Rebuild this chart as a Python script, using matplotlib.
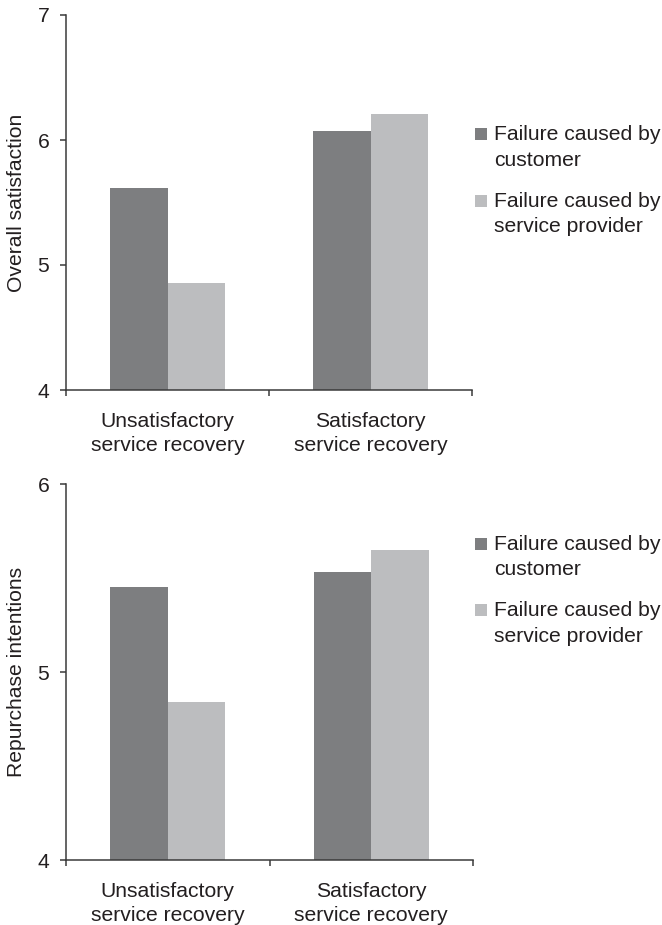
import matplotlib
matplotlib.use("Agg")
import matplotlib.pyplot as plt
from matplotlib.patches import Rectangle
import numpy as np

# ---------------- data ----------------
categories = ["Unsatisfactory\nservice recovery", "Satisfactory\nservice recovery"]
series_names = ["Failure caused by\ncustomer", "Failure caused by\nservice provider"]

satisfaction_customer = [5.62, 6.07]
satisfaction_provider = [4.86, 6.21]
satisfaction_ticks = [4, 5, 6, 7]

repurchase_customer = [5.45, 5.53]
repurchase_provider = [4.84, 5.65]
repurchase_ticks = [4, 5, 6]

ylabels = ["Overall satisfaction", "Repurchase intentions"]

# ---------------- style ----------------
W, H = 662, 925
COLORS = ["#7d7e80", "#bcbdbf"]
SPINE = "#3a3a3a"
TEXT = "#231f20"
FS = 15.2

plt.rcParams["font.family"] = ["Liberation Sans", "DejaVu Sans"]
plt.rcParams["text.color"] = TEXT

fig = plt.figure(figsize=(W / 100, H / 100), dpi=100)


def fx(px):
    return px / W


def fy(py):
    return 1 - py / H


def panel(rect_px, cust, prov, ticks, ylabel, legend_top):
    left, top, right, bottom = rect_px
    ax = fig.add_axes([fx(left), fy(bottom), (right - left) / W, (bottom - top) / H])
    x = np.arange(len(categories))
    w = 0.283
    ax.bar(x - w / 2, cust, w, color=COLORS[0], linewidth=0)
    ax.bar(x + w / 2, prov, w, color=COLORS[1], linewidth=0)
    ax.set_xlim(-0.5, len(categories) - 0.5)
    ax.set_ylim(ticks[0], ticks[-1])
    ax.set_yticks(ticks)
    ax.set_yticklabels([str(t) for t in ticks])
    ax.set_xticks(x)
    ax.set_xticklabels(categories, linespacing=1.38)
    ax.set_xticks(np.arange(len(categories) + 1) - 0.5, minor=True)
    ax.tick_params(axis="x", which="major", length=0, pad=15.5, labelsize=FS,
                   labelcolor=TEXT)
    ax.tick_params(axis="x", which="minor", length=4.5, width=1.1, color=SPINE,
                   direction="out")
    ax.tick_params(axis="y", length=4.5, width=1.1, color=SPINE, pad=7.5,
                   labelsize=FS, labelcolor=TEXT)
    for s in ["top", "right"]:
        ax.spines[s].set_visible(False)
    for s in ["left", "bottom"]:
        ax.spines[s].set_color(SPINE)
        ax.spines[s].set_linewidth(1.1)
    ax.set_ylabel(ylabel, fontsize=FS, color=TEXT)
    ax.yaxis.label.set_va("center")
    ax.yaxis.set_label_coords((17 - left) / (right - left), 0.5)

    # legend (squares aligned with first line of each label)
    for i, name in enumerate(series_names):
        sq_bottom = legend_top + i * 66.5
        fig.patches.append(Rectangle((fx(475), fy(sq_bottom)), 12 / W, 12 / H,
                                     transform=fig.transFigure,
                                     facecolor=COLORS[i], edgecolor="none"))
        for j, line in enumerate(name.split("\n")):
            fig.text(fx(494), fy(sq_bottom + j * 25.5), line, fontsize=FS,
                     ha="left", va="baseline", color=TEXT)
    return ax


panel((66, 15, 472, 390), satisfaction_customer, satisfaction_provider,
      satisfaction_ticks, ylabels[0], 140.3)
panel((66, 484, 473, 860), repurchase_customer, repurchase_provider,
      repurchase_ticks, ylabels[1], 549.8)

fig.savefig("out.png", dpi=100, facecolor="white")
